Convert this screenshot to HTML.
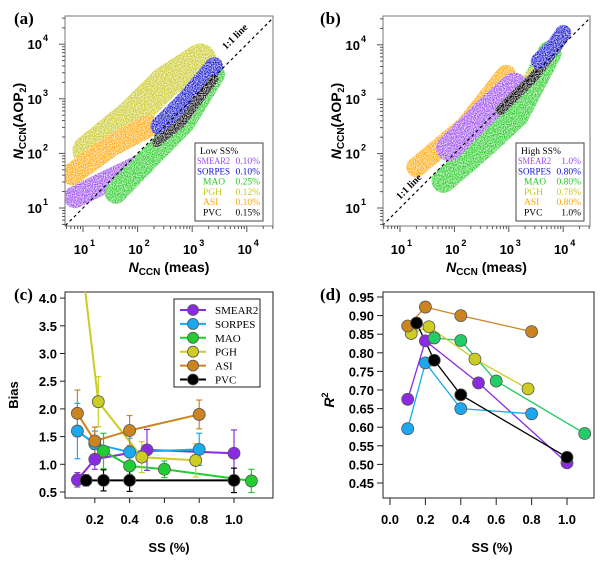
<!DOCTYPE html>
<html><head><meta charset="utf-8">
<style>
html,body{margin:0;padding:0;background:#fff;}
svg{display:block;}
text{font-family:"Liberation Sans",Arial,sans-serif;}
.ser{font-family:"Liberation Serif",serif;}
</style></head>
<body>
<svg id="fig" width="600" height="562" viewBox="0 0 600 562" xmlns="http://www.w3.org/2000/svg">
<defs>
<filter id="speck" filterUnits="userSpaceOnUse" x="0" y="0" width="600" height="300">
<feTurbulence type="fractalNoise" baseFrequency="0.9" numOctaves="1" seed="3" result="n"/>
<feColorMatrix in="n" type="matrix" values="0 0 0 0 0  0 0 0 0 0  0 0 0 0 0  0 0 0 -2.2 1.7" result="m"/>
<feComposite in="SourceGraphic" in2="m" operator="in"/>
</filter>
<clipPath id="clipA"><rect x="65" y="16" width="208" height="210"/></clipPath>
<clipPath id="clipB"><rect x="383" y="16" width="207" height="210"/></clipPath>
<clipPath id="clipC"><rect x="65" y="292" width="208" height="206"/></clipPath>
</defs>
<g id="root"></g>
</svg>
<script>
// ---------- data ----------
const sites = ['SMEAR2','SORPES','MAO','PGH','ASI','PVC'];
const colors = ['#8a2be2','#1aa8ee','#22cc33','#cccc22','#cc8420','#000000'];
const colorsA = ['#9a4af0','#1010d0','#22cc22','#c8c820','#ffa500','#000000'];
const colorsD = ['#8a2be2','#1aa8ee','#22cc66','#cccc22','#cc8420','#000000'];
// panel (c) bias
const biasSS = [[0.1,0.2,0.5,1.0],[0.1,0.2,0.4,0.8],[0.25,0.4,0.6,1.1],[0.12,0.22,0.47,0.78],[0.1,0.2,0.4,0.8],[0.15,0.25,0.4,1.0]];
const biasVal = [[0.72,1.09,1.26,1.2],[1.6,1.37,1.22,1.27],[1.24,0.97,0.91,0.7],[4.8,2.13,1.13,1.07],[1.92,1.42,1.61,1.9],[0.71,0.71,0.71,0.71]];
const biasErr = [[0.13,0.18,0.37,0.42],[0.5,0.23,0.25,0.29],[0.32,0.15,0.15,0.21],[0,0.45,0.28,0.3],[0.42,0.25,0.27,0.26],[0.1,0.19,0.2,0.22]];
const biasMarker = [[1,1,1,1],[1,1,1,1],[1,1,1,1],[0,1,1,1],[1,1,1,1],[1,1,1,1]];
// panel (d) R^2
const r2SS = [[0.1,0.2,0.5,1.0],[0.1,0.2,0.4,0.8],[0.25,0.4,0.6,1.1],[0.12,0.22,0.48,0.78],[0.1,0.2,0.4,0.8],[0.15,0.25,0.4,1.0]];
const r2Val = [[0.675,0.832,0.719,0.504],[0.596,0.773,0.65,0.636],[0.84,0.833,0.724,0.583],[0.852,0.87,0.783,0.703],[0.872,0.923,0.9,0.857],[0.88,0.78,0.687,0.519]];
// scatter cloud centerlines (log10 meas, log10 model) and widths
const cloudA_order = [3,4,0,2,1,5];
const cloudA_x = [[0.85,1.5,2.05],[2.4,2.9,3.4],[1.6,2.2,2.85,3.4],[1.1,1.9,2.5,3.15],[0.8,1.5,2.2],[2.35,2.8,3.4]];
const cloudA_y = [[1.2,1.52,1.78],[2.5,3.0,3.6],[1.28,1.9,2.56,3.45],[2.05,2.7,3.3,3.72],[1.62,2.13,2.5],[2.2,2.56,3.36]];
const cloudA_w = [22,18,22,32,22,9];
const cloudB_order = [2,4,3,0,5,1];
const cloudB_x = [[1.9,2.6,3.1],[3.55,3.85,4.0],[1.8,2.5,3.15,3.75],[3.35,3.6,3.8],[1.3,2.2,2.95],[2.85,3.45,3.95]];
const cloudB_y = [[2.1,2.8,3.25],[3.7,4.0,4.22],[1.5,2.1,2.7,3.85],[3.35,3.65,3.9],[1.75,2.5,3.45],[2.8,3.4,4.05]];
const cloudB_w = [26,16,24,12,20,10];
const legA_ss = ['0.10%','0.10%','0.25%','0.12%','0.10%','0.15%'];
const legB_ss = ['1.0%','0.80%','0.80%','0.78%','0.80%','1.0%'];
const cTicks = [0.5,1.0,1.5,2.0,2.5,3.0,3.5,4.0];
const cXTicks = [0.2,0.4,0.6,0.8,1.0];
const dTicks = [0.45,0.5,0.55,0.6,0.65,0.7,0.75,0.8,0.85,0.9,0.95];
const dXTicks = [0.0,0.2,0.4,0.6,0.8,1.0];
const decades = [1,2,3,4];

// ---------- helpers ----------
const NS='http://www.w3.org/2000/svg';
const root=document.getElementById('root');
function el(tag,attrs,parent){const e=document.createElementNS(NS,tag);for(const k in attrs)e.setAttribute(k,attrs[k]);(parent||root).appendChild(e);return e;}
function txt(x,y,s,attrs,parent){const t=el('text',Object.assign({x:x,y:y},attrs),parent);t.textContent=s;return t;}

// ---------- scatter panels ----------
function scatterPanel(o){
  const g=el('g',{});
  
  
  const X=v=>o.x10+(v-1)*o.dec, Y=v=>o.y10-(v-1)*o.dec;
  txt(o.labX,24,o.label,{'font-size':17,'font-weight':'bold',class:'ser'},g);
  const cl=el('g',{'clip-path':o.clip},g);
  const clouds=el('g',{filter:'url(#speck)'},cl);
  
  
  o.order.forEach(i=>{
    const pts=o.cx[i].map((v,j)=>X(v)+','+Y(o.cy[i][j])).join(' ');
    const p=el('polyline',{points:pts,fill:'none',stroke:colorsA[i],'stroke-width':o.cw[i],'stroke-linecap':'round','stroke-linejoin':'round'},clouds);
    
    
  });
  const lo=0.6, hi=4.5;
  const l=el('line',{x1:X(lo),y1:Y(lo),x2:X(hi),y2:Y(hi),stroke:'#000','stroke-width':1.2,'stroke-dasharray':'3,3','clip-path':o.clip},g);
  
  
  const ll=txt(o.lineLab[0],o.lineLab[1],'1:1 line',{'font-size':10,'font-weight':'bold',class:'ser',transform:'rotate(-45 '+o.lineLab[0]+' '+o.lineLab[1]+')'},g);
  
  el('rect',{x:o.bx,y:16,width:o.bw,height:210,fill:'none',stroke:'#777','stroke-width':1},g);
  decades.forEach(d=>{
    txt(X(d)-2,254,'10',{'font-size':13,'font-weight':'bold','text-anchor':'middle'},g);
    txt(X(d)+7,246,String(d),{'font-size':9,'font-weight':'bold'},g);
    txt(o.bx-23,Y(d)+5,'10',{'font-size':13,'font-weight':'bold','text-anchor':'end'},g);
    txt(o.bx-22,Y(d)-3,String(d),{'font-size':9,'font-weight':'bold'},g);
  });
  for(let d=0;d<=4;d++){for(let m=1;m<10;m++){const v=d+Math.log10(m);
    const xx=X(v); if(xx>o.bx && xx<o.bx+o.bw){el('line',{x1:xx,y1:226,x2:xx,y2:226+(m==1?6:3),stroke:'#555'},g);}
    const yy=Y(v); if(yy>16 && yy<226){el('line',{x1:o.bx,y1:yy,x2:o.bx-(m==1?6:3),y2:yy,stroke:'#555'},g);}
  }}
  const xt=el('text',{x:o.bx+o.bw/2,y:272,'font-size':14,'font-weight':'bold','text-anchor':'middle'},g);
  
  xt.innerHTML='<tspan font-style="italic">N</tspan><tspan font-size="10" dy="3">CCN</tspan><tspan dy="-3"> (meas)</tspan>';
  const yt=el('text',{x:0,y:0,'font-size':14,'font-weight':'bold','text-anchor':'middle',transform:'translate('+(o.bx-42)+',121) rotate(-90)'},g);
  
  yt.innerHTML='<tspan font-style="italic">N</tspan><tspan font-size="10" dy="3">CCN</tspan><tspan dy="-3">(AOP</tspan><tspan font-size="9" dy="3">2</tspan><tspan dy="-3">)</tspan>';
  const lg=el('g',{},g);
  
  
  el('rect',{x:o.lx,y:143,width:68,height:78,fill:'#fff',stroke:'#444','stroke-width':1},lg);
  txt(o.lx+5,154,o.legTitle,{'font-size':9.5,class:'ser'},lg);
  sites.forEach((s,i)=>{
    const c=colorsA[i];
    const t1=txt(o.lx+2,164+i*10.3,s,{'font-size':9.5,fill:c,class:'ser',textLength:s.length>4?33:0,lengthAdjust:'spacingAndGlyphs'},lg);
    if(s.length<=4){t1.removeAttribute('textLength');t1.setAttribute('x',o.lx+8);}
    
    
    txt(o.lx+65,164+i*10.3,o.legSS[i],{'font-size':9.5,fill:c,class:'ser','text-anchor':'end'},lg);
  });
}
scatterPanel({name:'panel-a',label:'(a)',labX:14,x10:83,y10:208,dec:54.6,bx:65,bw:208,clip:'url(#clipA)',order:cloudA_order,cx:cloudA_x,cy:cloudA_y,cw:cloudA_w,lineLab:[226,50],lx:195,legTitle:'Low SS%',legSS:legA_ss});
scatterPanel({name:'panel-b',label:'(b)',labX:320,x10:400,y10:208,dec:54.4,bx:383,bw:207,clip:'url(#clipB)',order:cloudB_order,cx:cloudB_x,cy:cloudB_y,cw:cloudB_w,lineLab:[400,200],lx:516,legTitle:'High SS%',legSS:legB_ss});

// ---------- panel (c) ----------
(function(){
  const g=el('g',{});
  
  
  const X=v=>60+v*174, Y=v=>492-(v-0.5)*55.4;
  txt(14,300,'(c)',{'font-size':17,'font-weight':'bold',class:'ser'},g);
  el('rect',{x:65,y:292,width:208,height:206,fill:'none',stroke:'#222','stroke-width':1},g);
  cTicks.forEach(v=>{el('line',{x1:65,y1:Y(v),x2:60,y2:Y(v),stroke:'#222'},g);
    txt(57,Y(v)+5,v.toFixed(1),{'font-size':13,'font-weight':'bold','text-anchor':'end'},g);});
  cXTicks.forEach(v=>{el('line',{x1:X(v),y1:498,x2:X(v),y2:503,stroke:'#222'},g);
    txt(X(v),524,v.toFixed(1),{'font-size':13,'font-weight':'bold','text-anchor':'middle'},g);});
  txt(169,552,'SS (%)',{'font-size':13,'font-weight':'bold','text-anchor':'middle'},g);
  txt(0,0,'Bias',{'font-size':13,'font-weight':'bold','text-anchor':'middle',transform:'translate(18,395) rotate(-90)'},g);
  const pg=el('g',{'clip-path':'url(#clipC)'},g);
  sites.forEach((s,i)=>{
    const sg=el('g',{},pg);
    
    
    el('polyline',{points:biasSS[i].map((v,j)=>X(v)+','+Y(biasVal[i][j])).join(' '),fill:'none',stroke:colors[i],'stroke-width':2},sg);
    biasSS[i].forEach((v,j)=>{
      if(!biasMarker[i][j]) return;
      const e=biasErr[i][j], x=X(v);
      el('line',{x1:x,y1:Y(biasVal[i][j]-e),x2:x,y2:Y(biasVal[i][j]+e),stroke:colors[i],'stroke-width':1.2},sg);
      el('line',{x1:x-3,y1:Y(biasVal[i][j]-e),x2:x+3,y2:Y(biasVal[i][j]-e),stroke:colors[i],'stroke-width':1.2},sg);
      el('line',{x1:x-3,y1:Y(biasVal[i][j]+e),x2:x+3,y2:Y(biasVal[i][j]+e),stroke:colors[i],'stroke-width':1.2},sg);
    });
  });
  sites.forEach((s,i)=>{biasSS[i].forEach((v,j)=>{ if(!biasMarker[i][j]) return;
    const c=el('circle',{cx:X(v),cy:Y(biasVal[i][j]),r:6,fill:colors[i],stroke:'#555','stroke-width':0.8},pg);
    
    
  });});
  const lg=el('g',{},g);
  
  
  el('rect',{x:174,y:299,width:86,height:88,fill:'#fff',stroke:'#222','stroke-width':1},lg);
  sites.forEach((s,i)=>{const y=310+i*13.9;
    el('line',{x1:180,y1:y,x2:206,y2:y,stroke:colors[i],'stroke-width':2},lg);
    el('circle',{cx:193,cy:y,r:5.5,fill:colors[i],stroke:'#555','stroke-width':0.8},lg);
    const t=txt(215,y+4,s,{'font-size':11,class:'ser'},lg);
    
    
  });
})();

// ---------- panel (d) ----------
(function(){
  const g=el('g',{});
  
  
  const X=v=>390+v*177, Y=v=>483-(v-0.45)*372;
  txt(320,300,'(d)',{'font-size':17,'font-weight':'bold',class:'ser'},g);
  el('rect',{x:383,y:292,width:211,height:206,fill:'none',stroke:'#222','stroke-width':1},g);
  dTicks.forEach(v=>{el('line',{x1:383,y1:Y(v),x2:377,y2:Y(v),stroke:'#222'},g);
    txt(374,Y(v)+5,v.toFixed(2),{'font-size':13,'font-weight':'bold','text-anchor':'end'},g);});
  dXTicks.forEach(v=>{el('line',{x1:X(v),y1:498,x2:X(v),y2:505,stroke:'#222'},g);
    txt(X(v),524,v.toFixed(1),{'font-size':13,'font-weight':'bold','text-anchor':'middle'},g);});
  txt(492,552,'SS (%)',{'font-size':13,'font-weight':'bold','text-anchor':'middle'},g);
  const yt=el('text',{'font-size':14,'font-weight':'bold','font-style':'italic','text-anchor':'middle',transform:'translate(334,400) rotate(-90)'},g);
  
  yt.innerHTML='R<tspan font-size="9" dy="-6" font-style="normal">2</tspan>';
  sites.forEach((s,i)=>{
    const sg=el('g',{},g);
    
    
    el('polyline',{points:r2SS[i].map((v,j)=>X(v)+','+Y(r2Val[i][j])).join(' '),fill:'none',stroke:colorsD[i],'stroke-width':1.3},sg);
  });
  sites.forEach((s,i)=>{r2SS[i].forEach((v,j)=>{
    const c=el('circle',{cx:X(v),cy:Y(r2Val[i][j]),r:6,fill:colorsD[i],stroke:'#555','stroke-width':0.8},g);
    
    
  });});
})();
</script>
</body></html>
